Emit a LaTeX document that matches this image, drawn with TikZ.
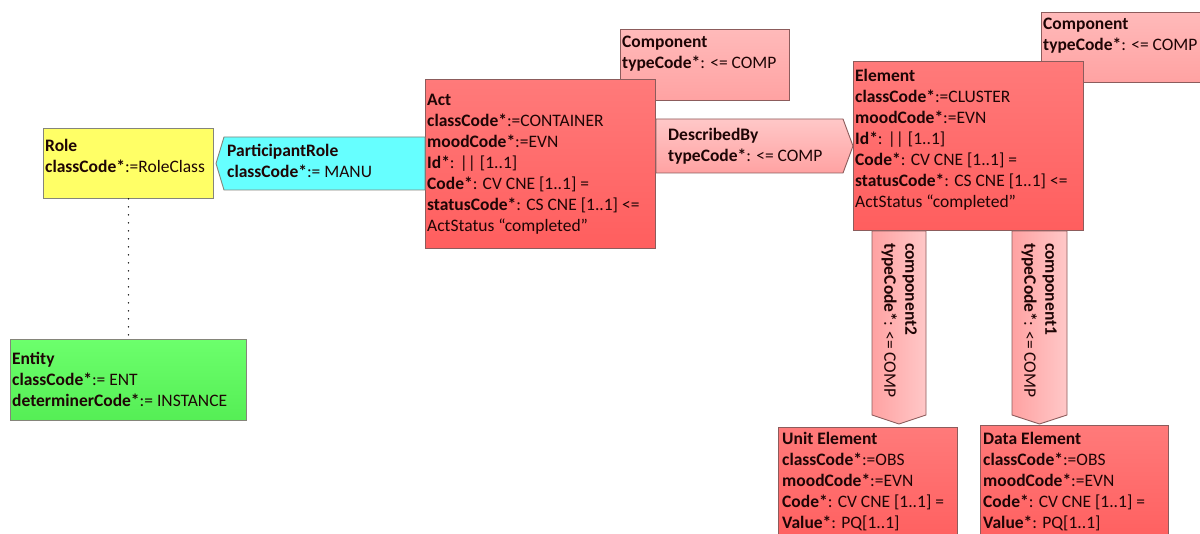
\documentclass[tikz,border=0pt]{standalone}
\usepackage{fontspec}
\setmainfont{Carlito}
\newcommand{\kvp}[2]{\textbf{#1}#2}
\definecolor{bordred}{HTML}{8C5C5C}
\definecolor{redtop}{HTML}{FF7A7A}
\definecolor{redbot}{HTML}{FF5E5E}
\definecolor{pinktop}{HTML}{FFBABA}
\definecolor{pinkbot}{HTML}{FFA2A2}
\definecolor{yel}{HTML}{FFFF66}
\definecolor{cya}{HTML}{66FFFF}
\definecolor{grtop}{HTML}{6CFF6C}
\definecolor{grbot}{HTML}{55EE55}
\definecolor{bordgray}{HTML}{85857A}
\definecolor{txtdark}{HTML}{1E0505}
\begin{document}
\begin{tikzpicture}[x=1pt,y=-1pt,
  base/.style={rectangle, inner sep=0pt, anchor=north west, line width=0.9pt},
  redbox/.style={base, draw=bordred, top color=redtop, bottom color=redbot},
  pinkbox/.style={base, draw=bordred, top color=pinktop, bottom color=pinkbot},
  yelbox/.style={base, draw=bordgray, fill=yel},
  grbox/.style={base, draw=bordgray, top color=grtop, bottom color=grbot},
  pinkarrow/.style={draw=bordred, line width=0.9pt, top color=pinktop!80!white, bottom color=pinkbot},
  pinkvarrow/.style={draw=bordred, line width=0.9pt, left color=pinkbot, right color=pinktop!80!white},
  cyaarrow/.style={draw=bordgray, line width=0.9pt, fill=cya},
  txt/.style={anchor=north west, inner sep=0pt, align=left, text=txtdark,
    font=\fontsize{17.5}{21}\selectfont, execute at begin node={\rule{0pt}{13pt}}},
  link/.style={dotted, line width=1.6pt, line cap=round, dash pattern=on 0pt off 8pt}
]
\clip (0,0) rectangle (1200,534);
\fill[white] (0,0) rectangle (1200,534);

% boxes in the back
\node[pinkbox, minimum width=170pt, minimum height=70pt] (compR) at (1041,12) {};
\node[pinkbox, minimum width=169pt, minimum height=71pt] (compM) at (620,29) {};

% Role and Entity
\node[yelbox, minimum width=170pt, minimum height=70pt] (role) at (43,128) {};
\node[grbox, minimum width=236pt, minimum height=81pt] (entity) at (10,339) {};
\draw[link] (role.south) -- (entity.north);

% Act
\node[redbox, minimum width=230pt, minimum height=169pt] (act) at (425,79) {};

% ParticipantRole (pointing left, to Role)
\coordinate (prT) at (224,137);
\coordinate (prB) at (224,190);
\coordinate (prTip) at (216,163.5);
\draw[cyaarrow] (prT) -- (act.west |- prT) -- (act.west |- prB) -- (prB) -- (prTip) -- cycle;

% Element
\node[redbox, minimum width=230pt, minimum height=169pt] (elem) at (853,61) {};

% DescribedBy (pointing right, to Element)
\coordinate (dbT) at (843,119);
\coordinate (dbB) at (843,173);
\draw[pinkarrow] (act.east |- dbT) -- (dbT) -- (elem.west |- 0,146) -- (dbB) -- (act.east |- dbB) -- cycle;

% Unit / Data elements
\node[redbox, minimum width=179pt, minimum height=120pt] (unit) at (778,427) {};
\node[redbox, minimum width=188pt, minimum height=122pt] (data) at (980,425) {};

% component2 and component1 arrows
\coordinate (c2L) at (872,415);
\coordinate (c2R) at (926,415);
\coordinate (c2tip) at (899,424);
\draw[pinkvarrow] (c2L |- elem.south) -- (c2R |- elem.south) -- (c2R) -- (c2tip) -- (c2L) -- cycle;
\coordinate (c1L) at (1012,415);
\coordinate (c1R) at (1067,415);
\coordinate (c1tip) at (1039.5,424);
\draw[pinkvarrow] (c1L |- elem.south) -- (c1R |- elem.south) -- (c1R) -- (c1tip) -- (c1L) -- cycle;

% texts
\node[txt] (roleT) at (45,139) {\textbf{Role}\\ \kvp{classCode*}{:=RoleClass}};
\node[txt] (prTxt) at (227,144) {\textbf{ParticipantRole}\\ \kvp{classCode*}{:= MANU}};
\node[txt] (actT) at (427,94) {\textbf{Act}\\ \kvp{classCode*}{:=CONTAINER}\\ \kvp{moodCode*}{:=EVN}\\ \kvp{Id*}{: || [1..1]}\\ \kvp{Code*}{: CV CNE [1..1] =}\\ \kvp{statusCode*}{: CS CNE [1..1] <=}\\ ActStatus “completed”};
\node[txt] (compMT) at (622,36) {\textbf{Component}\\ \kvp{typeCode*}{: <= COMP}};
\node[txt] (dbTxt) at (668,128) {\textbf{DescribedBy}\\ \kvp{typeCode*}{: <= COMP}};
\node[txt] (elemT) at (855,69) {\textbf{Element}\\ \kvp{classCode*}{:=CLUSTER}\\ \kvp{moodCode*}{:=EVN}\\ \kvp{Id*}{: || [1..1]}\\ \kvp{Code*}{: CV CNE [1..1] =}\\ \kvp{statusCode*}{: CS CNE [1..1] <=}\\ ActStatus “completed”};
\node[txt] (compRT) at (1043,18) {\textbf{Component}\\ \kvp{typeCode*}{: <= COMP}};
\node[txt, rotate=-90] (c2T) at (917,243) {\textbf{component2}\\ \kvp{typeCode*}{: <= COMP}};
\node[txt, rotate=-90] (c1T) at (1057,243) {\textbf{component1}\\ \kvp{typeCode*}{: <= COMP}};
\node[txt] (unitT) at (782,432) {\textbf{Unit Element}\\ \kvp{classCode*}{:=OBS}\\ \kvp{moodCode*}{:=EVN}\\ \kvp{Code*}{: CV CNE [1..1] =}\\ \kvp{Value*}{: PQ[1..1]}};
\node[txt] (dataT) at (983,432) {\textbf{Data Element}\\ \kvp{classCode*}{:=OBS}\\ \kvp{moodCode*}{:=EVN}\\ \kvp{Code*}{: CV CNE [1..1] =}\\ \kvp{Value*}{: PQ[1..1]}};
\node[txt] (entT) at (12,352) {\textbf{Entity}\\ \kvp{classCode*}{:= ENT}\\ \kvp{determinerCode*}{:= INSTANCE}};
\end{tikzpicture}
\end{document}
